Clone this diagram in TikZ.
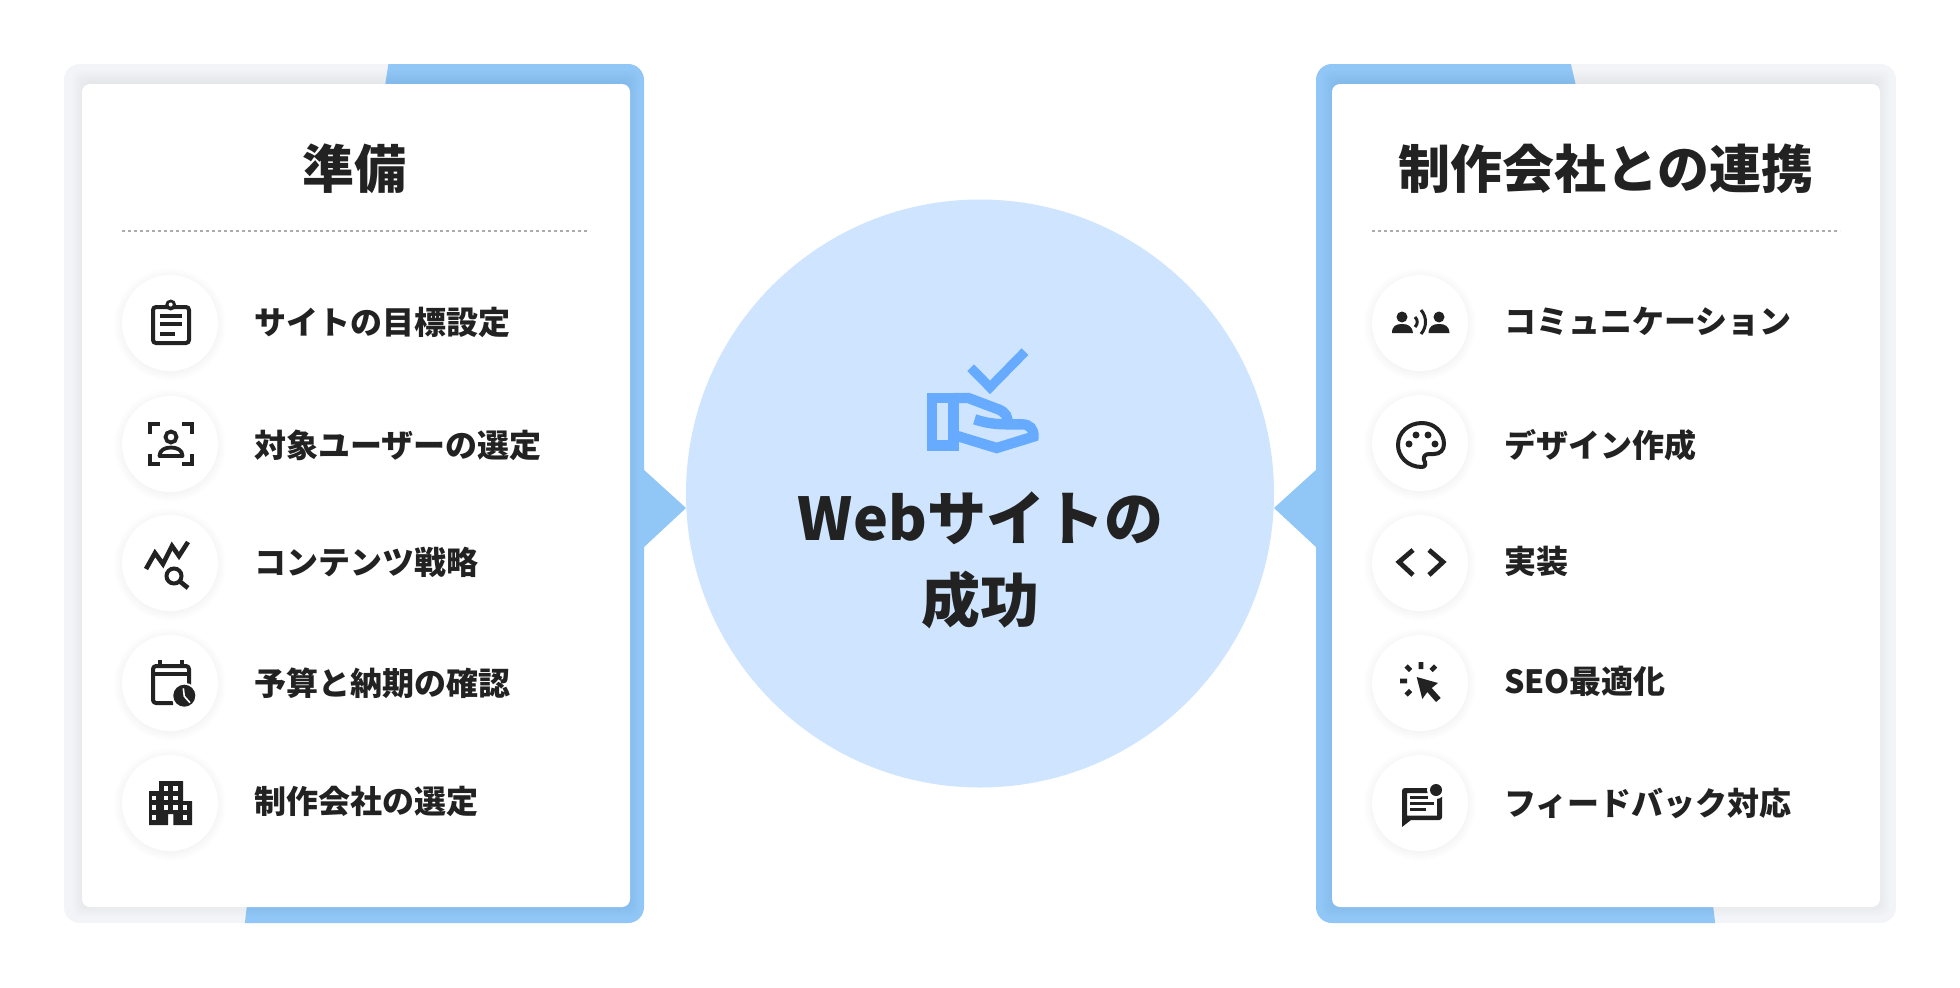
\documentclass[tikz,border=0pt]{standalone}
\usepackage{fontspec}
\setmainfont{Noto Sans CJK JP}
\usetikzlibrary{calc}
\definecolor{ink}{HTML}{222222}
\definecolor{stripblue}{HTML}{90C7F7}
\definecolor{panelgray}{HTML}{F3F4F8}
\definecolor{bigcircle}{HTML}{CFE5FF}
\definecolor{iconblue}{HTML}{66ABFF}
\definecolor{dotgray}{HTML}{ABABAB}
\tikzset{
  x=1pt,y=-1pt,
  itemcirc/.style={circle,fill=white,minimum size=96pt,inner sep=0pt},
  itemtext/.style={anchor=west,inner sep=0pt,text=ink,font=\fontsize{32}{32}\selectfont\bfseries},
  titletext/.style={anchor=center,inner sep=0pt,text=ink,font=\fontsize{52}{52}\selectfont\bfseries},
  centertext/.style={anchor=center,inner sep=0pt,text=ink,font=\fontsize{59}{59}\selectfont\bfseries},
  rule/.style={dotgray,line width=1.5pt,dash pattern=on 3pt off 3pt},
  stroke/.style={ink,line width=4pt,fill=none},
  handicon/.style={iconblue,line width=10.4pt,fill=none,miter limit=10}
}
\newcommand{\panel}[6]{%
  \begin{scope}
    \clip[rounded corners=16pt] (#1,64) rectangle (#2,923);
    \fill[panelgray] (#1,64) rectangle (#2,923);
    \fill[stripblue] #5;
    \foreach \k in {1,2,...,13}{
      \fill[black,opacity=0.0055,rounded corners=8pt] (#3-\k+3,84-\k-1) rectangle (#4+\k-3,907+\k-3);
    }
  \end{scope}
  \fill[white,rounded corners=8pt] (#3,84) rectangle (#4,907);
}
\newcommand{\itemc}[3]{%
  \foreach \k in {1,2,...,9}{\fill[black,opacity=0.0045] (#2,#3+1.5) circle[radius=47.5pt+\k pt];}
  \node[itemcirc] (#1) at (#2,#3) {};
}
\begin{document}
\begin{tikzpicture}
\useasboundingbox (0,0) rectangle (1960,988);
\fill[white] (0,0) rectangle (1960,988);

% panels
\panel{64}{644}{82}{630}{(389,60)--(650,60)--(650,930)--(244,930)--(247,905)--(300,500)--(385,86)--cycle}{}
\panel{1316}{1896}{1332}{1880}{(1570,60)--(1310,60)--(1310,930)--(1716,930)--(1713,905)--(1620,500)--(1576,86)--cycle}{}

% pointers
\fill[stripblue] (643,469)--(686,508)--(643,548)--cycle;
\fill[stripblue] (1317,469)--(1274,508)--(1317,548)--cycle;

% central circle
\node[circle,fill=bigcircle,minimum size=588pt,inner sep=0pt] (hub) at (980,493.5) {};
\node[centertext] (hubA) at (980.5,518.5) {Webサイトの};
\node[centertext] (hubB) at (980,600) {成功};

% hub icon
\begin{scope}[shift={(900,330)},x=0.3333pt,y=-0.3333pt]
  \draw[iconblue,line width=9.5pt] (212,113)--(270,172)--(375,65);
  \draw[handicon] (96,204)--(160,204)--(160,347)--(96,347)--cycle;
  \draw[handicon,line join=miter] (160,204)--(205,204)--(295,238) .. controls (318,247) and (325,262) .. (322,283);
  \draw[handicon] (224,268) .. controls (260,280) and (290,283) .. (322,283)--(365,283) .. controls (390,283) and (402,298) .. (400,320)--(290,354)--(165,316);
\end{scope}

% left card
\node[titletext] (ltitle) at (354.5,168.5) {準備};
\coordinate (lr1) at (122,231); \coordinate (lr2) at (590,231);
\draw[rule] (lr1)--(lr2);
\itemc{l1}{170}{323}\itemc{l2}{170}{444}\itemc{l3}{170}{563}\itemc{l4}{170}{683}\itemc{l5}{170}{803}
\node[itemtext] (lt1) at (254,322) {サイトの目標設定};
\node[itemtext] (lt2) at (254,445) {対象ユーザーの選定};
\node[itemtext] (lt3) at (254,562) {コンテンツ戦略};
\node[itemtext] (lt4) at (254,683) {予算と納期の確認};
\node[itemtext] (lt5) at (254,801.5) {制作会社の選定};

% right card
\node[titletext] (rtitle) at (1606,168.5) {制作会社との連携};
\coordinate (rr1) at (1372,231); \coordinate (rr2) at (1840,231);
\draw[rule] (rr1)--(rr2);
\itemc{r1}{1420}{323}\itemc{r2}{1420}{443}\itemc{r3}{1420}{563}\itemc{r4}{1420}{683}\itemc{r5}{1420}{803}
\node[itemtext] (rt1) at (1504,322) {コミュニケーション};
\node[itemtext] (rt2) at (1504,445) {デザイン作成};
\node[itemtext] (rt3) at (1504,561.5) {実装};
\node[itemtext] (rt4) at (1504,681.5) {SEO最適化};
\node[itemtext] (rt5) at (1504,803) {フィードバック対応};

% icon: clipboard
\begin{scope}[shift={(l1)}]
  \draw[stroke,rounded corners=3pt] (-17,-16) rectangle (19,20);
  \fill[ink] (0.7,-18) circle[radius=5.5pt];
  \fill[white] (0.7,-18.5) circle[radius=2pt];
  \draw[ink,line width=4pt] (-10,-7.3)--(12.3,-7.3) (-10,1.3)--(12.3,1.3) (-10,10.7)--(5,10.7);
\end{scope}
% icon: person in frame
\begin{scope}[shift={(l2)}]
  \draw[ink,line width=4.6pt] (-20,-10)--(-20,-20)--(-10,-20) (12,-20)--(22,-20)--(22,-10)
                (-20,10)--(-20,20)--(-10,20) (12,20)--(22,20)--(22,10);
  \draw[ink,line width=3.8pt] (1,-7) circle[radius=5.5pt];
  \draw[ink,line width=3.8pt,line join=round] (-10.5,12) .. controls (-10.5,6) and (-5,3.5) .. (1,3.5) .. controls (7,3.5) and (12.5,6) .. (12.5,12)--cycle;
\end{scope}
% icon: zigzag and magnifier
\begin{scope}[shift={(l3)}]
  \draw[ink,line width=4.6pt] (-24,6)--(-15,-10)--(-7,1)--(2,-17)--(9,-7)--(18,-21);
  \draw[ink,line width=4pt] (4,13) circle[radius=7.5pt];
  \draw[ink,line width=4.6pt] (10,18.5)--(18,25);
\end{scope}
% icon: calendar and clock
\begin{scope}[shift={(l4)}]
  \draw[stroke,line join=round,rounded corners=3pt] (3,20)--(-17,20)--(-17,-17)--(19,-17)--(19,3);
  \draw[ink,line width=4pt] (-17,-9)--(19,-9) (-10,-23)--(-10,-17) (11.7,-23)--(11.7,-17);
  \fill[white] (14.3,12.7) circle[radius=13pt];
  \fill[ink] (14.3,12.7) circle[radius=11pt];
  \draw[white,line width=1.6pt] (13.3,5.3)--(14.3,13.3)--(20,19.7);
\end{scope}
% icon: buildings
\begin{scope}[shift={(l5)}]
  \fill[ink] (-21,22)--(-21,-12)--(-11,-12)--(-11,-22)--(13,-22)--(13,-2)--(22,-2)--(22,22)--(3.3,22)--(3.3,11)--(-2,11)--(-2,22)--cycle;
  \foreach \px/\py in {-4/-14.7,5.7/-14.7,-16/-5,-4/-5,5.7/-5,-16/4.7,-4/4.7,5.7/4.7,15/4.7,-16/14.3,15/14.3}{
    \fill[white] (\px-2.3,\py-2.3) rectangle (\px+2.3,\py+2.3);}
\end{scope}
% icon: people talking
\begin{scope}[shift={(r1)}]
  \fill[ink] (-18,-6) circle[radius=5.5pt] (19,-6) circle[radius=5.5pt];
  \fill[ink] (-28,10) .. controls (-28,3) and (-24,1) .. (-18,1) .. controls (-12,1) and (-8,3) .. (-7,10)--cycle;
  \fill[ink] (8.5,10) .. controls (9,3) and (13,1) .. (19,1) .. controls (25,1) and (29,3) .. (29.5,10)--cycle;
  \draw[ink,line width=3pt] (-5,-6) .. controls (-2,-3) and (-2,1) .. (-5,4);
  \draw[ink,line width=3pt] (1,-13) .. controls (7,-6) and (7,4) .. (1,11);
\end{scope}
% icon: palette
\begin{scope}[shift={(r2)},yshift=-2pt]
  \draw[stroke,line join=round] (2,22) .. controls (-13,22) and (-22,11) .. (-22,0) .. controls (-22,-13) and (-11,-22) .. (2,-22) .. controls (14,-22) and (24,-13) .. (24,-1) .. controls (24,5) and (20,9) .. (14,9)--(9,9) .. controls (5,9) and (3,12) .. (4,15) .. controls (6,18) and (6,22) .. (2,22)--cycle;
  \fill[ink] (-11,-1) circle[radius=3.5pt] (-4,-10) circle[radius=3.5pt] (8,-10) circle[radius=3.5pt] (15,-1) circle[radius=3.5pt];
\end{scope}
% icon: code brackets
\begin{scope}[shift={(r3)}]
  \draw[ink,line width=4.8pt] (-7,-13)--(-21,-1)--(-7,12);
  \draw[ink,line width=4.8pt] (9,-13)--(23,-1)--(9,12);
\end{scope}
% icon: click cursor
\begin{scope}[shift={(r4)}]
  \fill[ink] (-3.3,-6)--(18,0)--(11.7,5)--(20.7,15)--(16,19)--(7.3,9)--(2.3,16)--cycle;
  \draw[ink,line width=4.6pt] (1,-21)--(1,-14) (-14,-17)--(-9.5,-12.5) (15.5,-17)--(11,-12.5) (-20,-2)--(-13,-2) (-14,12)--(-9.5,7.5);
\end{scope}
% icon: chat with badge
\begin{scope}[shift={(r5)}]
  \fill[ink,even odd rule] (-18,24)--(-18,-12) .. controls (-18,-14) and (-17,-15) .. (-15,-15)--(22,-15)--(22,14) .. controls (22,16) and (21,17) .. (19,17)--(-9,17)--cycle
     (-13,-10)--(-13,12.5)--(17,12.5)--(17,-10)--cycle;
  \fill[white] (16,-13) circle[radius=9pt];
  \fill[ink] (16,-13) circle[radius=6pt];
  \draw[ink,line width=3.2pt] (-10,-5.7)--(8,-5.7) (-10,0.3)--(14,0.3) (-10,6.7)--(6,6.7);
\end{scope}
\end{tikzpicture}
\end{document}
